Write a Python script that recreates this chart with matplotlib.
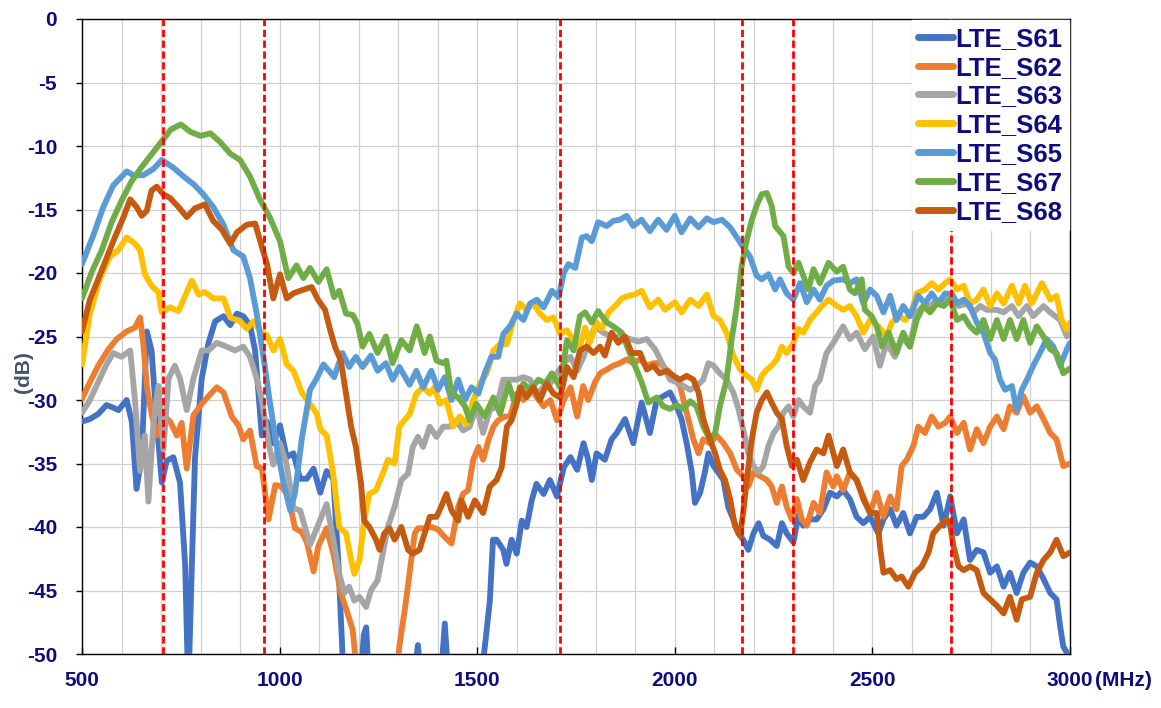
import matplotlib
matplotlib.use("Agg")
import matplotlib.pyplot as plt
from matplotlib.ticker import MultipleLocator

plt.rcParams['font.family'] = ['Liberation Sans', 'DejaVu Sans']
plt.rcParams['axes.unicode_minus'] = False

# ---------------- data (MHz, dB) ----------------
S61_f = [500, 520, 541, 562, 579, 592, 613, 626, 638, 651, 664, 676, 689, 702, 714, 731, 748, 761, 769, 778,
         786, 803, 820, 837, 858, 875, 892, 908, 925, 938, 955, 968, 984, 1001, 1018, 1035, 1052, 1069, 1086,
         1103, 1119, 1136, 1149, 1162, 1205, 1213, 1219, 1226, 1340, 1350, 1358, 1408, 1418, 1427, 1510, 1523,
         1532, 1540, 1549, 1566, 1574, 1587, 1600, 1613, 1625, 1638, 1650, 1668, 1684, 1702, 1719, 1736, 1753,
         1769, 1780, 1790, 1802, 1823, 1840, 1853, 1874, 1895, 1916, 1937, 1954, 1971, 1988, 2005, 2017, 2030,
         2043, 2051, 2064, 2076, 2085, 2098, 2110, 2123, 2135, 2148, 2161, 2173, 2186, 2199, 2212, 2224, 2241,
         2258, 2271, 2283, 2300, 2313, 2325, 2342, 2359, 2376, 2393, 2410, 2426, 2443, 2460, 2477, 2494, 2515,
         2528, 2545, 2561, 2578, 2595, 2612, 2629, 2646, 2663, 2680, 2697, 2714, 2731, 2747, 2764, 2781, 2798,
         2815, 2832, 2848, 2865, 2882, 2899, 2916, 2933, 2950, 2966, 2975, 2983, 2992, 3000]
S61_db = [-31.7, -31.5, -31.1, -30.4, -30.6, -30.8, -30.0, -31.7, -37.0, -34.5, -24.6, -26.1, -31.7, -36.5, -34.8,
          -34.5, -36.5, -43.0, -53.0, -43.0, -34.5, -28.3, -25.5, -23.8, -23.4, -24.1, -23.2, -23.4, -24.1, -26.1,
          -32.8, -31.7, -33.4, -32.0, -34.5, -34.2, -36.2, -36.2, -35.4, -37.3, -35.6, -36.2, -43.0, -52.0, -52.0,
          -48.5, -47.9, -52.0, -52.0, -49.3, -52.0, -52.0, -47.6, -52.0, -52.0, -48.4, -45.8, -41.0, -41.0, -41.8,
          -42.9, -41.0, -42.1, -39.5, -40.0, -37.9, -36.6, -37.4, -36.3, -37.6, -35.3, -34.5, -35.5, -33.4, -34.6,
          -36.3, -34.2, -34.7, -33.1, -32.6, -31.5, -33.4, -30.2, -32.6, -30.0, -29.7, -29.4, -30.5, -31.5, -33.4,
          -35.7, -38.1, -37.3, -35.7, -34.2, -35.2, -35.7, -36.3, -38.4, -39.4, -40.5, -41.0, -41.8, -40.5, -39.7,
          -40.7, -41.0, -41.5, -39.7, -40.5, -41.2, -39.1, -39.9, -39.4, -39.4, -38.6, -37.3, -37.6, -37.1, -37.8,
          -39.2, -39.7, -39.2, -40.5, -39.4, -38.6, -39.9, -38.9, -40.5, -39.2, -39.2, -38.6, -37.3, -39.9, -37.6,
          -40.5, -39.4, -42.6, -41.8, -42.0, -43.6, -43.1, -44.7, -43.6, -45.2, -43.6, -42.8, -43.1, -44.1, -45.2,
          -45.7, -47.8, -49.4, -49.9, -51.0]

S62_f = [500, 520, 541, 567, 588, 613, 634, 647, 655, 664, 676, 689, 706, 723, 740, 752, 765, 782, 803, 820, 841,
         858, 879, 896, 908, 925, 942, 955, 972, 989, 1005, 1022, 1039, 1056, 1069, 1086, 1098, 1119, 1136, 1155,
         1172, 1185, 1197, 1295, 1303, 1320, 1333, 1342, 1350, 1367, 1384, 1401, 1418, 1435, 1452, 1464, 1477,
         1490, 1503, 1515, 1528, 1541, 1553, 1570, 1583, 1600, 1617, 1634, 1651, 1668, 1685, 1702, 1719, 1736,
         1753, 1768, 1781, 1798, 1811, 1828, 1844, 1861, 1878, 1895, 1912, 1929, 1946, 1962, 1979, 1996, 2013,
         2030, 2047, 2060, 2072, 2089, 2106, 2123, 2140, 2157, 2173, 2186, 2199, 2216, 2233, 2245, 2258, 2271,
         2283, 2296, 2309, 2321, 2334, 2351, 2367, 2384, 2401, 2410, 2426, 2443, 2460, 2477, 2494, 2511, 2528,
         2545, 2561, 2574, 2587, 2604, 2616, 2633, 2650, 2667, 2684, 2697, 2714, 2731, 2747, 2764, 2781, 2798,
         2815, 2832, 2848, 2865, 2882, 2899, 2916, 2933, 2950, 2966, 2983, 3000]
S62_db = [-29.9, -28.6, -27.3, -26.0, -25.2, -24.6, -24.3, -23.5, -25.5, -28.9, -31.1, -32.8, -31.2, -31.7, -32.8,
          -31.8, -35.4, -31.2, -30.3, -29.7, -29.0, -29.4, -31.3, -32.0, -33.1, -32.4, -35.2, -35.4, -39.4, -36.7,
          -36.8, -37.6, -40.1, -40.4, -41.2, -43.5, -41.5, -40.1, -42.1, -45.2, -46.8, -48.1, -52.0, -52.0, -49.4,
          -45.8, -42.6, -40.5, -40.1, -40.1, -40.0, -40.2, -40.8, -41.3, -38.4, -37.4, -37.1, -34.7, -33.7, -34.7,
          -33.2, -32.1, -31.6, -31.3, -31.3, -29.5, -30.0, -29.0, -29.8, -30.5, -30.0, -31.6, -30.0, -29.0, -31.3,
          -28.9, -30.0, -28.6, -27.9, -27.6, -27.3, -27.1, -26.8, -27.1, -26.8, -27.3, -27.1, -27.1, -27.6, -28.1,
          -28.9, -31.0, -33.1, -34.2, -33.1, -33.4, -32.8, -33.4, -34.2, -35.5, -36.0, -36.8, -35.7, -36.0, -36.3,
          -36.8, -38.1, -36.8, -38.4, -39.4, -37.8, -39.4, -39.9, -38.1, -38.9, -35.7, -36.8, -36.0, -37.1, -35.7,
          -36.3, -37.6, -38.9, -37.3, -39.2, -37.6, -38.6, -35.2, -34.7, -33.6, -32.1, -32.6, -31.3, -32.1, -31.8,
          -31.3, -32.6, -31.8, -33.9, -32.3, -33.4, -32.1, -31.3, -32.3, -30.5, -31.0, -29.7, -31.0, -30.5, -31.5,
          -32.6, -33.1, -35.2, -35.0]

S63_f = [500, 520, 541, 562, 579, 600, 622, 634, 647, 659, 668, 681, 693, 706, 719, 735, 748, 765, 782, 803, 820,
         841, 866, 887, 908, 925, 942, 955, 972, 984, 1001, 1018, 1035, 1052, 1077, 1094, 1119, 1136, 1151, 1164,
         1176, 1189, 1202, 1219, 1231, 1248, 1261, 1274, 1291, 1308, 1325, 1337, 1350, 1363, 1380, 1397, 1414,
         1431, 1447, 1464, 1481, 1498, 1515, 1532, 1549, 1566, 1583, 1600, 1617, 1634, 1651, 1668, 1685, 1702,
         1719, 1736, 1753, 1769, 1787, 1798, 1819, 1840, 1861, 1887, 1908, 1929, 1950, 1971, 1988, 2005, 2022,
         2039, 2055, 2072, 2085, 2098, 2114, 2131, 2148, 2161, 2173, 2186, 2199, 2212, 2224, 2237, 2250, 2262,
         2275, 2288, 2300, 2313, 2325, 2342, 2355, 2367, 2384, 2401, 2426, 2443, 2460, 2481, 2502, 2519, 2536,
         2557, 2574, 2595, 2612, 2629, 2646, 2663, 2684, 2701, 2718, 2739, 2756, 2773, 2789, 2815, 2832, 2853,
         2870, 2891, 2907, 2933, 2950, 2975, 2992, 3000]
S63_db = [-31.0, -30.0, -28.6, -27.2, -26.3, -26.6, -26.1, -30.0, -35.6, -32.8, -38.0, -31.7, -28.9, -33.9, -28.3,
          -27.3, -28.3, -30.8, -28.3, -26.1, -26.1, -25.5, -25.8, -26.1, -25.8, -26.6, -28.3, -30.0, -33.4, -35.1,
          -33.4, -35.1, -38.5, -38.7, -41.4, -40.1, -38.2, -41.0, -43.7, -45.2, -44.7, -45.8, -45.5, -46.3, -45.0,
          -44.2, -42.1, -40.0, -38.4, -36.3, -35.8, -33.7, -32.9, -33.7, -32.1, -32.9, -32.1, -32.1, -31.6, -32.4,
          -32.1, -30.5, -32.6, -30.8, -30.5, -28.4, -28.4, -28.4, -28.2, -28.4, -29.5, -29.0, -28.7, -27.9, -27.1,
          -26.6, -27.7, -26.6, -25.0, -24.2, -24.7, -25.0, -25.0, -25.2, -25.4, -25.2, -26.0, -27.3, -28.4, -28.6,
          -28.9, -29.2, -28.9, -28.4, -27.1, -27.3, -27.9, -28.4, -29.4, -30.7, -32.3, -34.2, -35.2, -35.7, -35.2,
          -33.6, -32.6, -32.1, -31.0, -30.5, -31.3, -30.0, -30.5, -31.0, -28.9, -28.4, -26.3, -25.5, -24.2, -25.2,
          -24.7, -26.0, -25.0, -27.3, -25.5, -26.6, -25.0, -25.8, -23.1, -22.6, -22.6, -22.1, -22.4, -21.6, -22.6,
          -22.4, -23.1, -22.6, -22.9, -22.9, -23.1, -22.6, -23.4, -22.6, -23.4, -22.6, -23.1, -23.7, -25.0, -24.7]

S64_f = [500, 520, 546, 571, 592, 613, 634, 647, 659, 676, 693, 702, 723, 744, 761, 778, 795, 811, 832, 858, 875,
         900, 917, 934, 951, 968, 984, 1001, 1018, 1035, 1056, 1077, 1094, 1103, 1119, 1136, 1151, 1168, 1181,
         1189, 1202, 1214, 1227, 1244, 1261, 1274, 1291, 1303, 1316, 1329, 1346, 1363, 1380, 1392, 1405, 1422,
         1439, 1456, 1473, 1490, 1507, 1524, 1541, 1558, 1575, 1592, 1608, 1625, 1642, 1659, 1676, 1693, 1710,
         1727, 1744, 1760, 1773, 1785, 1802, 1815, 1832, 1849, 1866, 1882, 1899, 1916, 1937, 1958, 1975, 2000,
         2017, 2039, 2060, 2081, 2098, 2114, 2131, 2148, 2165, 2182, 2195, 2207, 2220, 2233, 2245, 2258, 2271,
         2283, 2300, 2313, 2325, 2342, 2359, 2372, 2389, 2410, 2426, 2443, 2460, 2477, 2494, 2515, 2536, 2549,
         2566, 2583, 2599, 2612, 2633, 2650, 2667, 2684, 2697, 2714, 2731, 2747, 2764, 2781, 2798, 2815, 2832,
         2853, 2870, 2886, 2903, 2929, 2950, 2966, 2979, 2992, 3000]
S64_db = [-27.2, -23.2, -20.4, -18.7, -18.2, -17.2, -17.7, -18.2, -20.1, -21.0, -21.5, -23.1, -22.7, -23.0, -21.8,
          -20.6, -21.7, -21.5, -22.0, -22.0, -23.5, -23.8, -24.4, -23.8, -24.6, -24.9, -26.1, -25.2, -27.2, -27.7,
          -29.4, -30.3, -31.1, -32.3, -32.8, -35.9, -40.0, -40.5, -42.6, -43.7, -42.6, -39.5, -37.4, -37.1, -35.8,
          -34.7, -35.0, -32.1, -31.6, -31.1, -29.5, -29.0, -29.5, -29.0, -30.3, -30.0, -32.1, -31.3, -31.9, -30.0,
          -28.7, -27.9, -26.1, -25.6, -25.6, -23.7, -22.4, -22.9, -22.4, -23.2, -23.7, -23.5, -24.8, -24.5, -25.3,
          -25.8, -24.3, -25.5, -23.9, -24.4, -23.1, -22.6, -22.0, -21.8, -21.7, -21.4, -22.7, -22.1, -22.9, -22.3,
          -23.1, -22.1, -22.6, -21.7, -23.4, -23.7, -24.7, -26.5, -27.6, -28.1, -28.4, -29.2, -28.1, -27.6, -27.3,
          -26.8, -25.8, -26.3, -25.5, -24.4, -24.7, -23.7, -23.1, -22.6, -22.1, -22.6, -22.9, -22.6, -23.4, -24.7,
          -23.7, -24.2, -25.0, -23.9, -23.4, -23.7, -23.1, -21.6, -21.3, -20.8, -21.3, -20.8, -20.5, -21.3, -21.0,
          -22.4, -22.1, -21.3, -22.6, -21.6, -22.4, -21.0, -22.4, -21.0, -22.4, -20.8, -22.1, -21.8, -23.7, -24.5,
          -23.9]

S65_f = [500, 529, 554, 579, 613, 630, 655, 681, 702, 731, 757, 782, 807, 832, 858, 883, 908, 925, 942, 959, 976,
         993, 1010, 1027, 1039, 1056, 1077, 1094, 1111, 1125, 1138, 1159, 1176, 1193, 1210, 1231, 1248, 1269,
         1286, 1303, 1329, 1346, 1363, 1384, 1401, 1418, 1435, 1452, 1469, 1486, 1503, 1519, 1536, 1553, 1566,
         1583, 1600, 1617, 1634, 1651, 1668, 1689, 1706, 1719, 1731, 1748, 1765, 1777, 1790, 1806, 1828, 1844,
         1861, 1878, 1895, 1916, 1937, 1958, 1979, 2000, 2017, 2039, 2060, 2081, 2098, 2119, 2140, 2157, 2174,
         2190, 2207, 2220, 2237, 2254, 2266, 2283, 2300, 2317, 2334, 2351, 2367, 2384, 2401, 2426, 2443, 2460,
         2477, 2494, 2511, 2528, 2545, 2561, 2578, 2595, 2616, 2633, 2650, 2667, 2684, 2701, 2714, 2731, 2747,
         2764, 2781, 2798, 2810, 2823, 2836, 2853, 2865, 2878, 2891, 2907, 2924, 2941, 2958, 2975, 2992, 3000]
S65_db = [-19.3, -17.0, -14.8, -13.1, -12.0, -12.3, -12.3, -11.8, -11.1, -11.7, -12.4, -13.0, -13.8, -14.8, -16.2,
          -18.2, -18.7, -20.4, -23.2, -26.6, -30.3, -33.7, -36.5, -38.7, -37.3, -33.1, -29.2, -28.3, -27.2, -27.7,
          -28.2, -26.3, -27.4, -26.6, -27.4, -26.5, -27.7, -27.1, -28.4, -27.4, -28.8, -27.7, -29.0, -27.7, -29.2,
          -28.2, -30.0, -28.4, -30.0, -29.0, -29.5, -27.9, -26.6, -26.6, -24.8, -24.2, -23.2, -23.7, -22.4, -22.1,
          -22.7, -21.4, -21.9, -20.0, -19.3, -19.6, -17.2, -17.1, -17.5, -16.0, -16.3, -15.9, -15.8, -15.5, -16.3,
          -15.8, -16.7, -15.8, -16.6, -15.5, -16.8, -15.7, -16.4, -15.7, -16.0, -15.8, -16.4, -17.2, -18.0, -18.7,
          -20.2, -20.5, -20.1, -21.3, -20.5, -21.6, -22.1, -20.8, -22.3, -21.3, -22.1, -21.0, -20.6, -20.5, -20.8,
          -20.5, -22.4, -21.3, -21.8, -23.1, -21.8, -23.7, -22.6, -23.4, -21.8, -22.4, -21.6, -22.4, -21.6, -21.7,
          -22.4, -22.1, -22.6, -23.9, -24.7, -26.3, -26.8, -28.4, -29.2, -28.9, -30.8, -29.2, -28.4, -27.3, -26.3,
          -25.2, -25.8, -27.3, -26.0, -25.5]

S67_f = [500, 525, 550, 575, 600, 625, 650, 675, 700, 725, 750, 775, 800, 825, 850, 875, 900, 925, 950, 975, 1001,
         1022, 1043, 1060, 1077, 1098, 1119, 1138, 1151, 1168, 1185, 1197, 1210, 1227, 1248, 1269, 1286, 1308,
         1329, 1347, 1367, 1380, 1397, 1414, 1422, 1435, 1452, 1469, 1481, 1498, 1519, 1541, 1558, 1579, 1596,
         1617, 1634, 1655, 1672, 1689, 1710, 1727, 1744, 1760, 1773, 1790, 1806, 1828, 1844, 1866, 1882, 1899,
         1916, 1933, 1954, 1971, 1988, 2005, 2022, 2039, 2055, 2072, 2089, 2102, 2114, 2131, 2144, 2157, 2169,
         2182, 2195, 2207, 2220, 2233, 2245, 2254, 2267, 2275, 2288, 2300, 2313, 2325, 2338, 2351, 2367, 2389,
         2410, 2426, 2443, 2456, 2473, 2481, 2498, 2511, 2524, 2541, 2561, 2578, 2595, 2612, 2629, 2646, 2663,
         2680, 2697, 2714, 2731, 2747, 2764, 2781, 2798, 2815, 2832, 2848, 2865, 2882, 2899, 2916, 2933, 2950,
         2966, 2983, 3000]
S67_db = [-22.0, -19.9, -18.2, -16.0, -14.3, -12.8, -11.7, -10.7, -9.7, -8.7, -8.3, -8.9, -9.2, -9.0, -9.7, -10.6,
          -11.1, -12.4, -14.2, -15.6, -17.5, -20.4, -19.4, -20.4, -19.6, -20.7, -19.7, -21.9, -21.4, -23.2, -23.3,
          -24.0, -25.8, -24.8, -26.3, -25.0, -27.1, -25.3, -26.1, -24.2, -26.3, -25.0, -26.9, -27.1, -26.9, -29.5,
          -29.8, -30.5, -31.6, -30.3, -31.3, -29.8, -31.1, -28.7, -30.3, -28.7, -29.2, -28.4, -28.7, -27.9, -29.0,
          -25.3, -26.1, -23.4, -23.1, -23.9, -23.0, -23.9, -24.2, -24.7, -26.0, -27.3, -28.6, -30.2, -29.8, -30.5,
          -30.7, -30.4, -30.7, -30.1, -30.5, -32.1, -33.1, -32.6, -30.5, -28.4, -25.2, -22.6, -19.5, -17.4, -15.8,
          -14.7, -13.8, -13.7, -14.7, -16.3, -16.8, -17.1, -19.5, -20.0, -19.2, -20.2, -21.3, -19.7, -20.8, -19.2,
          -19.9, -19.5, -21.3, -21.6, -20.5, -22.9, -23.4, -24.2, -25.8, -24.7, -26.3, -24.7, -25.8, -23.7, -22.6,
          -23.1, -22.4, -22.6, -22.1, -23.7, -23.4, -24.2, -24.7, -23.7, -25.2, -23.7, -25.2, -23.7, -25.2, -23.7,
          -25.5, -24.2, -25.0, -26.0, -26.3, -27.9, -27.5]

S68_f = [500, 520, 546, 579, 605, 622, 638, 651, 664, 676, 689, 706, 723, 744, 765, 786, 811, 832, 854, 875, 892,
         917, 938, 951, 968, 984, 1001, 1018, 1035, 1052, 1081, 1097, 1115, 1128, 1140, 1155, 1168, 1181, 1193,
         1206, 1214, 1227, 1244, 1253, 1265, 1278, 1291, 1308, 1325, 1337, 1354, 1367, 1380, 1397, 1409, 1422,
         1435, 1452, 1460, 1477, 1494, 1515, 1532, 1549, 1562, 1575, 1587, 1600, 1608, 1625, 1642, 1659, 1676,
         1693, 1710, 1727, 1744, 1760, 1777, 1794, 1811, 1823, 1840, 1857, 1874, 1891, 1912, 1929, 1946, 1962,
         1979, 1996, 2013, 2030, 2047, 2060, 2072, 2089, 2102, 2114, 2127, 2140, 2152, 2165, 2173, 2182, 2195,
         2207, 2220, 2233, 2245, 2258, 2271, 2283, 2296, 2309, 2325, 2342, 2359, 2376, 2389, 2410, 2426, 2443,
         2460, 2477, 2494, 2511, 2519, 2528, 2545, 2561, 2574, 2591, 2608, 2625, 2642, 2654, 2671, 2688, 2697,
         2705, 2718, 2731, 2747, 2764, 2781, 2798, 2815, 2832, 2848, 2865, 2878, 2899, 2916, 2933, 2950, 2966,
         2983, 3000]
S68_db = [-24.6, -22.1, -20.1, -17.5, -15.6, -14.2, -14.8, -15.5, -15.1, -13.5, -13.2, -13.8, -14.1, -14.8, -15.6,
          -14.9, -14.6, -15.9, -16.6, -17.7, -16.8, -16.2, -16.1, -17.5, -19.3, -22.0, -20.1, -22.0, -21.6, -21.4,
          -21.1, -22.1, -22.9, -24.5, -25.8, -26.9, -29.5, -32.1, -33.7, -36.6, -39.5, -40.0, -41.0, -41.8, -40.5,
          -40.1, -41.0, -40.0, -41.8, -42.1, -41.8, -40.5, -39.2, -39.2, -38.4, -37.4, -38.7, -39.5, -37.9, -39.2,
          -37.9, -38.9, -36.8, -36.3, -35.3, -32.1, -31.6, -30.3, -29.0, -29.8, -29.0, -30.0, -28.7, -29.5, -29.8,
          -27.4, -28.2, -26.1, -25.8, -26.3, -25.8, -26.5, -24.7, -25.5, -25.0, -26.3, -26.3, -27.6, -27.3, -27.9,
          -27.7, -28.1, -28.4, -28.1, -28.4, -29.4, -31.5, -33.1, -34.2, -35.5, -36.3, -37.8, -39.9, -40.7, -38.9,
          -36.3, -33.1, -31.0, -30.0, -29.4, -30.2, -31.0, -31.5, -33.6, -35.2, -34.7, -36.3, -34.9, -33.9, -34.2,
          -32.8, -35.2, -33.9, -35.7, -36.3, -37.8, -38.9, -38.9, -41.5, -43.6, -43.4, -44.1, -43.9, -44.7, -43.6,
          -43.1, -42.0, -40.5, -39.9, -39.4, -39.9, -41.5, -43.1, -43.4, -43.1, -43.4, -45.2, -45.7, -46.2, -46.8,
          -45.5, -47.3, -45.7, -45.5, -43.6, -42.6, -42.0, -41.0, -42.3, -42.0]

series_names = ['LTE_S61', 'LTE_S62', 'LTE_S63', 'LTE_S64', 'LTE_S65', 'LTE_S67', 'LTE_S68']
series_f = [S61_f, S62_f, S63_f, S64_f, S65_f, S67_f, S68_f]
series_db = [S61_db, S62_db, S63_db, S64_db, S65_db, S67_db, S68_db]
colors = ['#4472C4', '#ED7D31', '#A5A5A5', '#FFC000', '#5B9BD5', '#70AD47', '#C55A11']

band_edges = [704, 960, 1710, 2170, 2300, 2700]
x_ticks = [500, 1000, 1500, 2000, 2500, 3000]
y_ticks = [0, -5, -10, -15, -20, -25, -30, -35, -40, -45, -50]

# ---------------- figure ----------------
W, H = 1161, 708
fig = plt.figure(figsize=(W / 100, H / 100), dpi=100)
ax = fig.add_axes([82 / W, 1 - 654 / H, 988 / W, 635 / H])

navy = '#0D0D80'

for f, d, c, n in zip(series_f, series_db, colors, series_names):
    ax.plot(f, d, color=c, lw=4.2, label=n, solid_capstyle='round', solid_joinstyle='round', zorder=3)

for e in band_edges:
    ax.axvline(e, color='#FF0000', lw=2.0, linestyle=(0, (2.6, 1.3)), zorder=4)

ax.set_xlim(500, 3000)
ax.set_ylim(-50, 0)
ax.xaxis.set_minor_locator(MultipleLocator(100))
ax.set_xticks(x_ticks)
ax.set_yticks(y_ticks)
ax.grid(True, which='both', axis='x', color='#D0D0D0', lw=0.9, zorder=0)
ax.grid(True, which='major', axis='y', color='#D0D0D0', lw=0.9, zorder=0)
ax.set_axisbelow(True)

for s in ax.spines.values():
    s.set_color('black')
    s.set_linewidth(1.0)

ax.tick_params(axis='x', which='major', direction='in', length=5, width=1, pad=12,
               labelsize=15, labelcolor=navy)
ax.tick_params(axis='x', which='minor', length=0)
ax.tick_params(axis='y', which='major', direction='out', length=4, width=1, pad=14,
               labelsize=15, labelcolor=navy)
for lab in ax.get_xticklabels() + ax.get_yticklabels():
    lab.set_fontweight('bold')

fig.text(1095 / W, 1 - 680 / H, '(MHz)', fontsize=15, fontweight='bold', color=navy,
         ha='left', va='center')
fig.text(23 / W, 1 - 372 / H, '(dB)', fontsize=15, fontweight='bold', color='#44546A',
         rotation=90, ha='center', va='center')

leg = ax.legend(loc='upper right', bbox_to_anchor=(1.0, 1.0), borderaxespad=0.05,
                frameon=True, fancybox=False, framealpha=1.0, facecolor='white', edgecolor='white',
                prop={'size': 18.5, 'weight': 'bold'}, labelcolor=navy,
                handlelength=1.35, handletextpad=0.1, labelspacing=0.19, borderpad=0.25)
leg.set_zorder(10)
for h in leg.get_lines():
    h.set_linewidth(5.0)

fig.savefig('out.png', dpi=100)
